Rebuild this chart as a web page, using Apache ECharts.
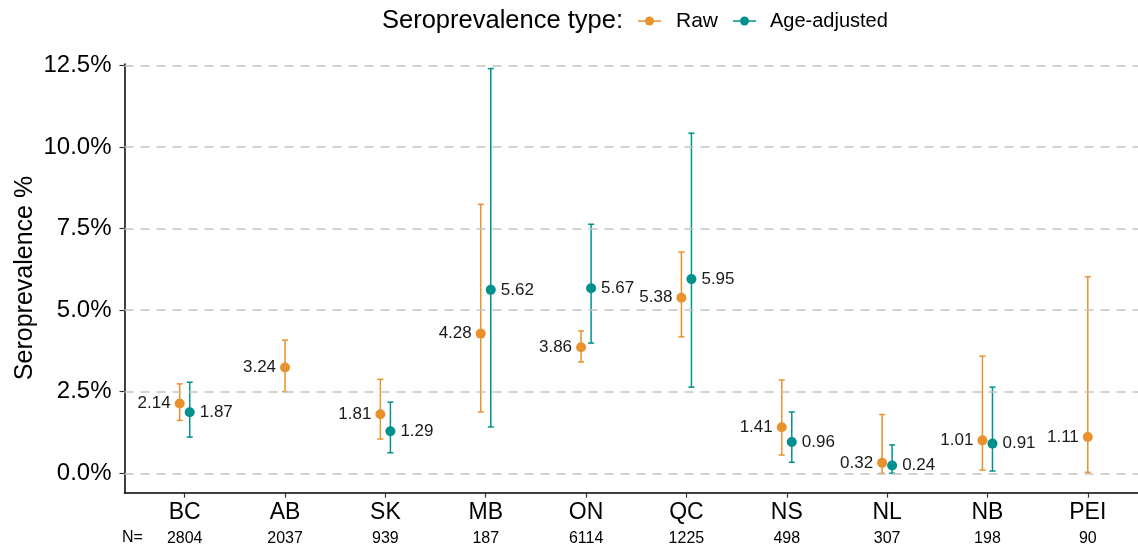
<!DOCTYPE html>
<html>
<head>
<meta charset="utf-8">
<script src="https://cdn.jsdelivr.net/npm/echarts@6/dist/echarts.min.js"></script>
<style>html,body{margin:0;padding:0;background:#fff}#c{width:1138px;height:552px}</style>
</head>
<body>
<div id="c"></div>
<script>
const provinces = ['BC','AB','SK','MB','ON','QC','NS','NL','NB','PEI'];
const sampleN = [2804, 2037, 939, 187, 6114, 1225, 498, 307, 198, 90];
const rawValue = [2.14, 3.24, 1.81, 4.28, 3.86, 5.38, 1.41, 0.32, 1.01, 1.11];
const rawLow   = [1.62, 2.50, 1.05, 1.88, 3.41, 4.18, 0.56, 0.00, 0.10, 0.03];
const rawHigh  = [2.74, 4.08, 2.88, 8.24, 4.36, 6.78, 2.86, 1.80, 3.59, 6.02];
const adjValue = [1.87, null, 1.29, 5.62, 5.67, 5.95, 0.96, 0.24, 0.91, null];
const adjLow   = [1.11, null, 0.63, 1.42, 3.99, 2.64, 0.34, 0.00, 0.07, null];
const adjHigh  = [2.79, null, 2.18, 12.40, 7.63, 10.42, 1.88, 0.87, 2.64, null];
const yTicks = [0, 2.5, 5, 7.5, 10, 12.5];

const ORANGE = '#E8912D';
const TEAL = '#00918F';
const DODGE = 0.05;

function xPos(i, which) {
  const both = rawValue[i] != null && adjValue[i] != null;
  if (!both) return i + 1;
  return which === 'raw' ? i + 1 - DODGE : i + 1 + DODGE;
}

const rawPts = [], adjPts = [], rawBars = [], adjBars = [];
provinces.forEach((p, i) => {
  if (rawValue[i] != null) {
    rawPts.push([xPos(i, 'raw'), rawValue[i]]);
    rawBars.push([xPos(i, 'raw'), rawLow[i], rawHigh[i]]);
  }
  if (adjValue[i] != null) {
    adjPts.push([xPos(i, 'adj'), adjValue[i]]);
    adjBars.push([xPos(i, 'adj'), adjLow[i], adjHigh[i]]);
  }
});

function errRender(color) {
  return function (params, api) {
    const x = api.value(0);
    const lo = api.coord([x, api.value(1)]);
    const hi = api.coord([x, api.value(2)]);
    const cw = 3;
    const style = { stroke: color, lineWidth: 1.5, fill: null };
    return {
      type: 'group',
      children: [
        { type: 'line', shape: { x1: lo[0], y1: lo[1], x2: hi[0], y2: hi[1] }, style },
        { type: 'line', shape: { x1: lo[0] - cw, y1: lo[1], x2: lo[0] + cw, y2: lo[1] }, style },
        { type: 'line', shape: { x1: hi[0] - cw, y1: hi[1], x2: hi[0] + cw, y2: hi[1] }, style }
      ]
    };
  };
}

const FONT = '"Liberation Sans", Arial, Helvetica, sans-serif';
const chart = echarts.init(document.getElementById('c'), null, { renderer: 'canvas' });

const option = {
  animation: false,
  backgroundColor: '#fff',
  textStyle: { fontFamily: FONT },
  grid: { left: 124.5, width: 1023.5, top: 64, height: 428.7, containLabel: false, outerBoundsMode: 'none' },
  xAxis: {
    type: 'value', min: 0.4, max: 10.6,
    axisLine: { show: true, onZero: false, lineStyle: { color: '#000', width: 1.5 } },
    axisTick: { show: true, length: 5, lineStyle: { color: '#333', width: 1.2 }, customValues: provinces.map((p, i) => i + 1) },
    splitLine: { show: false },
    axisLabel: {
      customValues: provinces.map((p, i) => i + 1),
      margin: 6,
      formatter: function (v) {
        const i = Math.round(v) - 1;
        return '{c|' + provinces[i] + '}\n{n|' + sampleN[i] + '}';
      },
      rich: {
        c: { fontSize: 23, color: '#000', lineHeight: 28, fontFamily: FONT },
        n: { fontSize: 16, color: '#000', lineHeight: 24, fontFamily: FONT }
      }
    }
  },
  yAxis: {
    type: 'value', min: -0.594, max: 12.54,
    axisLine: { show: true, onZero: false, lineStyle: { color: '#000', width: 1.5 } },
    axisTick: { show: true, length: 5, lineStyle: { color: '#333', width: 1.2 }, customValues: yTicks },
    splitLine: { show: false },
    axisLabel: {
      customValues: yTicks, margin: 13, fontSize: 24, color: '#000', fontFamily: FONT,
      formatter: v => v.toFixed(1) + '%'
    }
  },
  series: [
    {
      type: 'custom', name: 'gridlines', data: [], silent: true,
      markLine: {
        silent: true, symbol: 'none', animation: false,
        label: { show: false },
        lineStyle: { color: '#C4C4C4', type: [9, 7], width: 1.5 },
        data: yTicks.map(v => ({ yAxis: v }))
      },
      z: 0
    },
    { type: 'custom', name: 'Raw CI', data: rawBars, renderItem: errRender(ORANGE), z: 2, silent: true },
    { type: 'custom', name: 'Age CI', data: adjBars, renderItem: errRender(TEAL), z: 2, silent: true },
    {
      type: 'scatter', name: 'Raw', data: rawPts, symbolSize: 10, z: 3,
      itemStyle: { color: ORANGE, opacity: 1 },
      label: { show: true, position: 'left', distance: 4, fontSize: 17, color: '#1a1a1a', fontFamily: FONT,
        formatter: p => p.value[1].toFixed(2) }
    },
    {
      type: 'scatter', name: 'Age-adjusted', data: adjPts, symbolSize: 10, z: 3,
      itemStyle: { color: TEAL, opacity: 1 },
      label: { show: true, position: 'right', distance: 5, fontSize: 17, color: '#1a1a1a', fontFamily: FONT,
        formatter: p => p.value[1].toFixed(2) }
    }
  ],
  graphic: [
    { type: 'text', x: 25, y: 278, rotation: Math.PI / 2,
      style: { text: 'Seroprevalence %', font: '25px ' + FONT, fill: '#000', textAlign: 'center', textVerticalAlign: 'middle' } },
    { type: 'text', x: 122, y: 538, style: { text: 'N=', font: '16px ' + FONT, fill: '#000', textVerticalAlign: 'middle' } },
    { type: 'text', x: 382, y: 21, style: { text: 'Seroprevalence type:', font: '25.5px ' + FONT, fill: '#000', textVerticalAlign: 'middle' } },
    { type: 'line', shape: { x1: 638, y1: 21, x2: 661, y2: 21 }, style: { stroke: ORANGE, lineWidth: 1.5 } },
    { type: 'circle', shape: { cx: 649.5, cy: 21, r: 4.5 }, style: { fill: ORANGE } },
    { type: 'text', x: 676, y: 21, style: { text: 'Raw', font: '21px ' + FONT, fill: '#000', textVerticalAlign: 'middle' } },
    { type: 'line', shape: { x1: 733, y1: 21, x2: 756, y2: 21 }, style: { stroke: TEAL, lineWidth: 1.5 } },
    { type: 'circle', shape: { cx: 744.5, cy: 21, r: 4.5 }, style: { fill: TEAL } },
    { type: 'text', x: 770, y: 21, style: { text: 'Age-adjusted', font: '20px ' + FONT, fill: '#000', textVerticalAlign: 'middle' } }
  ]
};
chart.setOption(option);
</script>
</body>
</html>
